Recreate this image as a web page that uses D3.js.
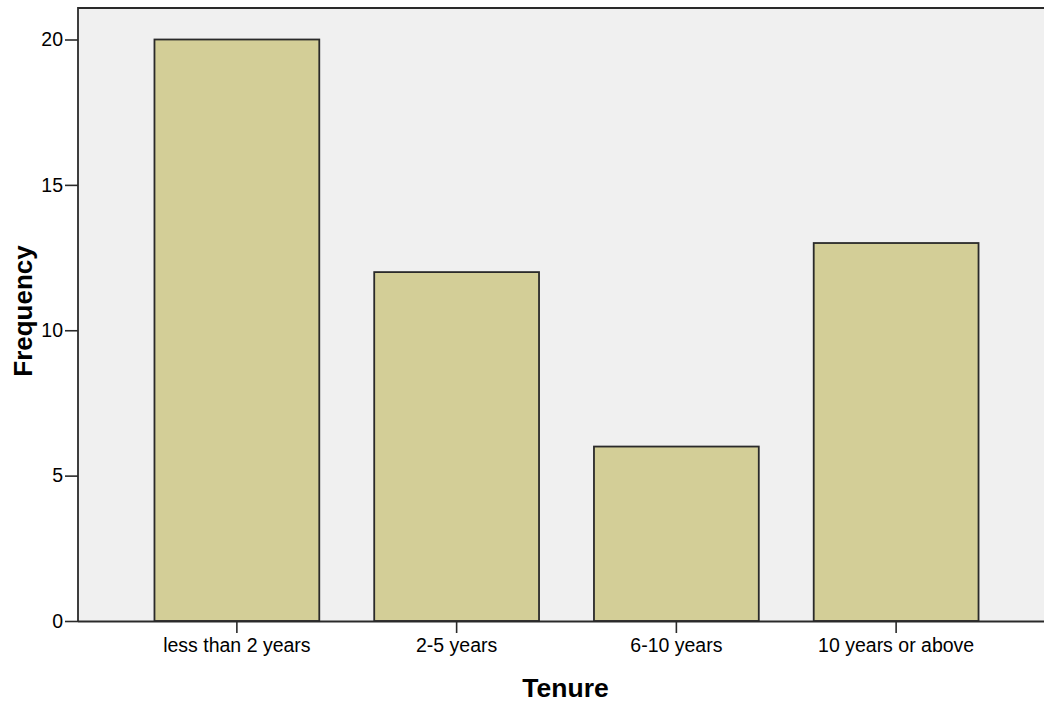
<!DOCTYPE html>
<html>
<head>
<meta charset="utf-8">
<script src="https://cdn.jsdelivr.net/npm/d3@7"></script>
<style>
  html, body { margin: 0; padding: 0; background: #ffffff; }
  svg { display: block; }
  text { font-family: Arial, "Liberation Sans", sans-serif; fill: #000; }
</style>
</head>
<body>
<svg id="chart" width="1044" height="702"></svg>
<script>
const categories = ["less than 2 years", "2-5 years", "6-10 years", "10 years or above"];
const frequencies = [20, 12, 6, 13];
const yTicks = [0, 5, 10, 15, 20];
const xTitle = "Tenure";
const yTitle = "Frequency";

const svg = d3.select("#chart");
const plot = { left: 78, top: 8, right: 1053, bottom: 621 };

const y = d3.scaleLinear().domain([0, 20]).range([plot.bottom, 39.5]);
const x = d3.scaleBand().domain(categories).range([127, 1006])
  .paddingInner(0.25).paddingOuter(0.125);

// plot background
svg.append("rect")
  .attr("x", plot.left).attr("y", plot.top)
  .attr("width", plot.right - plot.left).attr("height", plot.bottom - plot.top)
  .attr("fill", "#f0f0f0");

// bars
svg.append("g").selectAll("rect").data(frequencies).join("rect")
  .attr("x", (d, i) => x(categories[i]))
  .attr("y", d => y(d))
  .attr("width", x.bandwidth())
  .attr("height", d => y(0) - y(d))
  .attr("fill", "#d3ce97")
  .attr("stroke", "#2a2a2a")
  .attr("stroke-width", 1.8);

// frame: top and left
svg.append("path")
  .attr("d", `M${plot.right},${plot.top}H${plot.left}V${plot.bottom}`)
  .attr("fill", "none").attr("stroke", "#2a2a2a").attr("stroke-width", 1.8);

// y axis
const yAxis = d3.axisLeft(y).tickValues(yTicks).tickSize(13).tickPadding(2).tickFormat(d3.format("d"));
const gy = svg.append("g").attr("transform", `translate(${plot.left},0)`).call(yAxis);
gy.select(".domain").remove();
gy.selectAll(".tick line").attr("stroke", "#2a2a2a").attr("stroke-width", 1.6);
gy.selectAll(".tick text").attr("font-size", 19.5).attr("font-family", "Arial, 'Liberation Sans', sans-serif").attr("fill", "#111");

// x axis
const xAxis = d3.axisBottom(x).tickSize(12).tickPadding(5);
const gx = svg.append("g").attr("transform", `translate(0,${plot.bottom})`).call(xAxis);
gx.select(".domain").attr("d", `M${plot.left},0.5H${plot.right}`).attr("stroke", "#2a2a2a").attr("stroke-width", 1.8);
gx.selectAll(".tick line").attr("stroke", "#2a2a2a").attr("stroke-width", 1.6);
gx.selectAll(".tick text").attr("font-size", 19.5).attr("font-family", "Arial, 'Liberation Sans', sans-serif").attr("fill", "#111");

// titles
svg.append("text")
  .attr("x", 565.5).attr("y", 697)
  .attr("text-anchor", "middle")
  .attr("font-size", 26.5).attr("font-weight", "bold")
  .text(xTitle);

svg.append("text")
  .attr("transform", `translate(32,311) rotate(-90)`)
  .attr("text-anchor", "middle")
  .attr("font-size", 26).attr("font-weight", "bold")
  .text(yTitle);
</script>
</body>
</html>
